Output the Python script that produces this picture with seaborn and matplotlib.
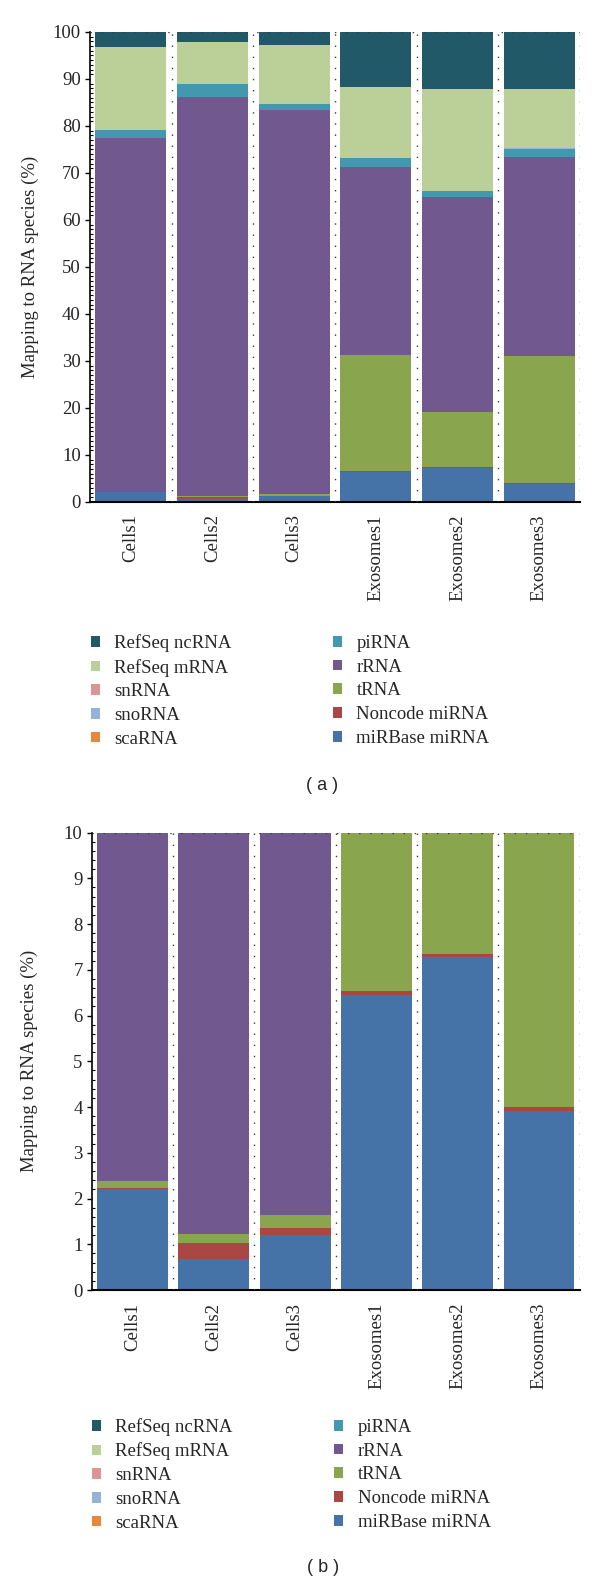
import matplotlib
matplotlib.use("Agg")

import numpy as np
import seaborn as sns
from matplotlib import pyplot as plt
from matplotlib.patches import Patch
from matplotlib.ticker import MultipleLocator

samples = ["Cells1", "Cells2", "Cells3", "Exosomes1", "Exosomes2", "Exosomes3"]

# percentage of reads per RNA species (stack order: bottom -> top)
mirbase_mirna = [2.20, 0.67, 1.20, 6.45, 7.27, 3.92]
noncode_mirna = [0.04, 0.36, 0.16, 0.08, 0.08, 0.08]
trna = [0.15, 0.20, 0.28, 24.77, 11.85, 27.10]
rrna = [75.10, 84.97, 81.66, 40.00, 45.70, 42.20]
pirna = [1.60, 2.80, 1.40, 1.80, 1.30, 1.90]
scarna = [0.01, 0.01, 0.01, 0.01, 0.01, 0.01]
snorna = [0.01, 0.01, 0.01, 0.01, 0.01, 0.01]
snrna = [0.01, 0.01, 0.01, 0.01, 0.01, 0.01]
refseq_mrna = [17.60, 8.90, 12.50, 15.20, 21.60, 12.70]
refseq_ncrna = [3.28, 2.07, 2.77, 11.67, 12.17, 12.07]

species = ["miRBase miRNA", "Noncode miRNA", "tRNA", "rRNA", "piRNA",
           "scaRNA", "snoRNA", "snRNA", "RefSeq mRNA", "RefSeq ncRNA"]
series = [mirbase_mirna, noncode_mirna, trna, rrna, pirna,
          scarna, snorna, snrna, refseq_mrna, refseq_ncrna]
colors = ["#4572A7", "#AA4643", "#89A54E", "#71588F", "#4198AF",
          "#E5883C", "#95B3D7", "#D99694", "#BBCF98", "#215968"]

# legend order as in the figure (column-wise)
legend_order = ["RefSeq ncRNA", "RefSeq mRNA", "snRNA", "snoRNA", "scaRNA",
                "piRNA", "rRNA", "tRNA", "Noncode miRNA", "miRBase miRNA"]

sns.set_style("ticks")
plt.rcParams["font.family"] = ["Liberation Serif", "DejaVu Serif"]

tops = np.cumsum(np.array(series), axis=0)


def draw_panel(ax, ymax, major, minor):
    # overlay cumulative bars from the top layer down
    for i in range(len(species) - 1, -1, -1):
        sns.barplot(x=samples, y=tops[i], order=samples, color=colors[i],
                    saturation=1, width=0.87, linewidth=0, errorbar=None, ax=ax)
    dot = dict(color="#3a3a3a", linewidth=1.0, linestyle=(0, (1, 7)), zorder=5)
    for b in np.arange(0.5, len(samples), 1.0):
        ax.axvline(b, **dot)
    ax.axhline(ymax, **dot)
    ax.set_xlim(-0.5, len(samples) - 0.5)
    ax.set_ylim(0, ymax)
    ax.yaxis.set_major_locator(MultipleLocator(major))
    ax.yaxis.set_minor_locator(MultipleLocator(minor))
    ax.tick_params(axis="y", which="major", direction="out", length=3.6,
                   width=1, labelsize=13.5, pad=3, color="black")
    ax.tick_params(axis="y", which="minor", direction="in", length=2.2,
                   width=0.8, color="black")
    ax.tick_params(axis="x", length=0, labelsize=13.5, pad=9, labelrotation=90)
    for s in ["top", "right"]:
        ax.spines[s].set_visible(False)
    ax.spines["left"].set_linewidth(1.2)
    ax.spines["bottom"].set_linewidth(1.5)
    ax.spines["left"].set_color("black")
    ax.spines["bottom"].set_color("black")
    ax.set_xlabel("")
    ax.set_ylabel("Mapping to RNA species (%)", fontsize=13.5, va="center")


fig = plt.figure(figsize=(6, 15.84), dpi=100)
ax_a = fig.add_axes([0.150, 0.6831, 0.8167, 0.2967])
ax_b = fig.add_axes([0.153, 0.1856, 0.8133, 0.2888])

draw_panel(ax_a, 100, 10, 1)
draw_panel(ax_b, 10, 1, 0.2)
ax_a.yaxis.set_label_coords(-60 / 490, 0.5)
ax_b.yaxis.set_label_coords(-62 / 488, 0.5)

color_of = dict(zip(species, colors))
handles = [Patch(facecolor=color_of[name], edgecolor="none", label=name)
           for name in legend_order]

for y_top, x_left in [(1 - 634 / 1584, 91 / 600), (1 - 1418 / 1584, 92 / 600)]:
    fig.legend(handles=handles, labels=legend_order, loc="upper left",
               bbox_to_anchor=(x_left, y_top), ncol=2, frameon=False,
               fontsize=13.5, handlelength=0.5, handleheight=0.5,
               handletextpad=0.75, columnspacing=5.4, labelspacing=0.36,
               borderpad=0, borderaxespad=0)

fig.text(322 / 600, 1 - 785 / 1584, "( a )", ha="center", va="center",
         fontsize=13, family="Liberation Sans")
fig.text(323 / 600, 1 - 1568 / 1584, "( b )", ha="center", va="center",
         fontsize=13, family="Liberation Sans")

fig.savefig("out.png", dpi=100)
plt.close(fig)
